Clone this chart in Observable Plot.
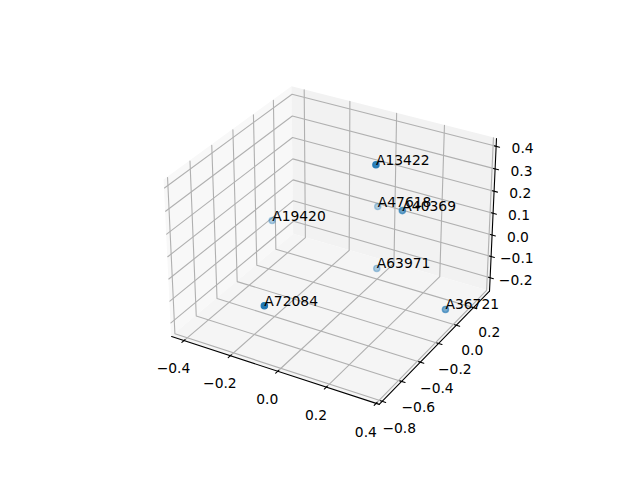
<!DOCTYPE html>
<html><head><meta charset="utf-8">
<script src="https://cdn.jsdelivr.net/npm/d3@7"></script>
<script src="https://cdn.jsdelivr.net/npm/@observablehq/plot@0.6"></script>
<style>html,body{margin:0;padding:0;background:#fff}svg{display:block}</style>
</head><body><div id="c"></div>
<script>
// Values
const names=["A13422","A47618","A40369","A19420","A63971","A72084","A36721"];
const xs=[0.108,-0.062,0.133,-0.385,0.009,-0.088,0.351];
const ys=[-0.107,0.358,0.121,0.010,0.172,-0.747,0.042];
const zs=[0.406,0.001,0.128,-0.033,-0.199,-0.033,-0.228];
const xTicks=[-0.4,-0.2,0,0.2,0.4];
const yTicks=[-0.8,-0.6,-0.4,-0.2,0,0.2];
const zTicks=[-0.2,-0.1,0,0.1,0.2,0.3,0.4];
const xLim=[-0.437,0.395],yLim=[-0.806,0.367],zLim=[-0.25,0.42];

// Camera: elevation 30, azimuth -60, distance 10, box aspect 4:4:3
const lims=[xLim,yLim,zLim];
const asp=[4,4,3],nn=Math.hypot(...asp),box=asp.map(a=>a*1.8294640721620434/nn);
const dist=10,el=30*Math.PI/180,az=-60*Math.PI/180;
const w=[Math.cos(el)*Math.cos(az),Math.cos(el)*Math.sin(az),Math.sin(el)];
const E=box.map((b,i)=>b/2+dist*w[i]);
const cross=(a,b)=>[a[1]*b[2]-a[2]*b[1],a[2]*b[0]-a[0]*b[2],a[0]*b[1]-a[1]*b[0]];
const dot3=(a,b)=>a[0]*b[0]+a[1]*b[1]+a[2]*b[2];
const u0=cross([0,0,1],w),ul=Math.hypot(...u0),u=u0.map(c=>c/ul),v=cross(w,u);
function proj(p){
  const n=p.map((c,i)=>(c-lims[i][0])/(lims[i][1]-lims[i][0])*box[i]-E[i]);
  const zv=dot3(w,n);
  return {px:dot3(u,n)/-zv,py:dot3(v,n)/-zv,d:-zv};
}
const P=(a,b,c)=>proj([a,b,c]);
const pad=lims.map(l=>(l[1]-l[0])/48);
const [x0,y0,z0]=lims.map((l,i)=>l[0]-pad[i]),[x1,y1,z1]=lims.map((l,i)=>l[1]+pad[i]);
const dl=lims.map(l=>(l[1]-l[0])/12);
const seg=(pts,k)=>pts.map(p=>({...P(...p),k}));
const quad=(a,b,c,d)=>{const A=P(...a),B=P(...b),C=P(...c),D=P(...d);
  return [{x1:A.px,y1:A.py,x2:D.px,y2:D.py},{x1:B.px,y1:B.py,x2:C.px,y2:C.py}]};
const fmt=t=>t.toFixed(1).replace("-","\u2212");
const L=1.04;
const grid=[],ticks=[],xLab=[],yLab=[],zLab=[];
xTicks.forEach((t,i)=>{grid.push(...seg([[t,y0,z0],[t,y1,z0],[t,y1,z1]],"x"+i));
  ticks.push(...seg([[t,y0-0.2*dl[1],z0],[t,y0+0.1*dl[1],z0]],"x"+i));
  xLab.push({...P(t,y0-L*dl[1],z0-L*dl[2]),s:fmt(t)});});
yTicks.forEach((t,i)=>{grid.push(...seg([[x1,t,z0],[x0,t,z0],[x0,t,z1]],"y"+i));
  ticks.push(...seg([[x1+0.2*dl[0],t,z0],[x1-0.1*dl[0],t,z0]],"y"+i));
  yLab.push({...P(x1+L*dl[0],t,z0-L*dl[2]),s:fmt(t)});});
zTicks.forEach((t,i)=>{grid.push(...seg([[x0,y0,t],[x0,y1,t],[x1,y1,t]],"z"+i));
  ticks.push(...seg([[x1+0.2*dl[0],y1,t],[x1-0.1*dl[0],y1,t]],"z"+i));
  zLab.push({...P(x1+L*dl[0],y1+L*dl[1],t),s:fmt(t)});});
const axes=[...seg([[x0,y0,z0],[x1,y0,z0]],"a"),...seg([[x1,y0,z0],[x1,y1,z0]],"b"),...seg([[x1,y1,z0],[x1,y1,z1]],"c")];
const pts=names.map((n,i)=>({n,...P(xs[i],ys[i],zs[i])}));
const ds=d3.extent(pts,p=>p.d);
pts.forEach(p=>p.al=1-0.7*(p.d-ds[0])/(ds[1]-ds[0]));
const sorted=d3.sort(pts,p=>-p.d);
const font={fontFamily:"DejaVu Sans",fontSize:13.89,fill:"#000"};
const pane=(q,fill)=>Plot.area(q,{x1:"x1",y1:"y1",x2:"x2",y2:"y2",fill});
const chart=Plot.plot({width:640,height:480,margin:0,
  x:{domain:[-0.095,0.09],range:[143.2,512.8],axis:null},
  y:{domain:[-0.095,0.09],range:[427.2,57.6],axis:null},
  marks:[
    pane(quad([x0,y0,z0],[x0,y1,z0],[x0,y1,z1],[x0,y0,z1]),"#f8f8f8"),
    pane(quad([x0,y1,z0],[x1,y1,z0],[x1,y1,z1],[x0,y1,z1]),"#f2f2f2"),
    pane(quad([x0,y0,z0],[x1,y0,z0],[x1,y1,z0],[x0,y1,z0]),"#f5f5f5"),
    Plot.line(grid,{x:"px",y:"py",z:"k",stroke:"#b0b0b0",strokeWidth:1.1}),
    Plot.line(axes,{x:"px",y:"py",z:"k",stroke:"#000",strokeWidth:1.1}),
    Plot.line(ticks,{x:"px",y:"py",z:"k",stroke:"#000",strokeWidth:1.1}),
    Plot.text(xLab,{x:"px",y:"py",text:"s",...font,textAnchor:"middle",lineAnchor:"middle",dy:6}),
    Plot.text(yLab,{x:"px",y:"py",text:"s",...font,textAnchor:"middle",lineAnchor:"middle",dy:8,dx:-1}),
    Plot.text(zLab,{x:"px",y:"py",text:"s",...font,textAnchor:"middle",lineAnchor:"middle",dy:6}),
    Plot.dot(sorted,{x:"px",y:"py",r:3.1,fill:"#1f77b4",stroke:"#1f77b4",strokeWidth:1.39,fillOpacity:"al",strokeOpacity:"al"}),
    Plot.text(pts,{x:"px",y:"py",text:"n",...font,textAnchor:"start",lineAnchor:"bottom"})
  ]});
document.getElementById("c").append(chart);
</script></body></html>
